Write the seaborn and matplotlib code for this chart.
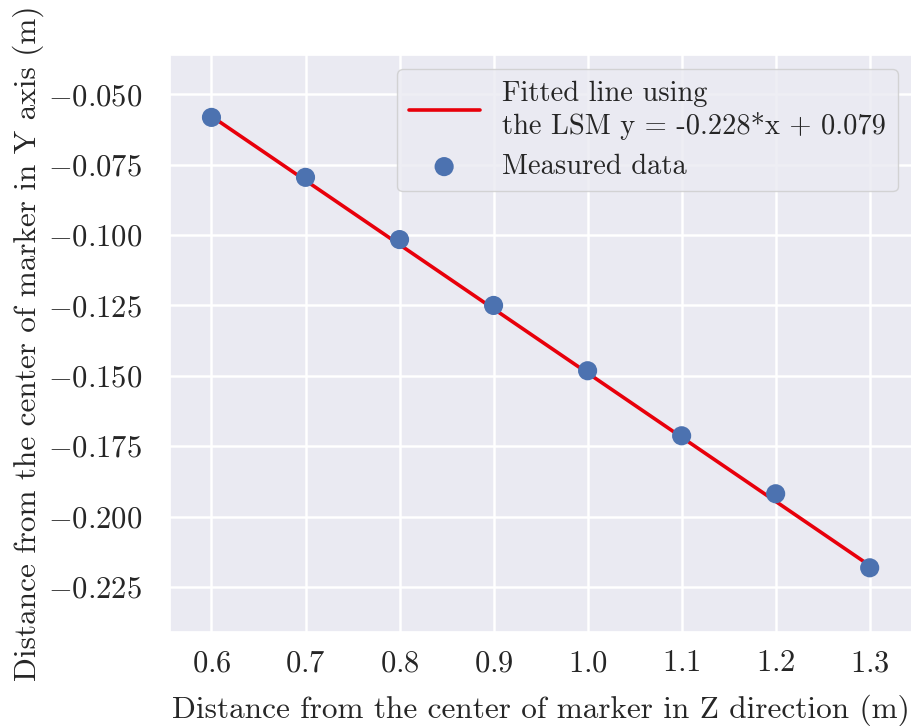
import numpy as np
import pandas as pd
import matplotlib
matplotlib.use("Agg")
import matplotlib.pyplot as plt
import seaborn as sns

sns.set_theme(style="darkgrid", font_scale=1.5)
plt.rcParams['font.family'] = ['cmr10', 'DejaVu Serif']
plt.rcParams['mathtext.fontset'] = 'cm'
plt.rcParams['axes.formatter.use_mathtext'] = True
plt.rcParams['axes.unicode_minus'] = True
plt.rcParams['grid.linewidth'] = 1.8

# measured data
z_dist = [0.6, 0.7, 0.8, 0.9, 1.0, 1.1, 1.2, 1.3]
y_dist = [-0.0582, -0.0795, -0.1016, -0.1250, -0.1482, -0.1713, -0.1919, -0.2182]

# LSM fit coefficients (from legend)
slope = -0.228
intercept = 0.079

df = pd.DataFrame({'z': z_dist, 'y': y_dist})
df['fit'] = slope * df['z'] + intercept

fig = plt.figure(figsize=(9.12, 7.26), dpi=100)
ax = fig.add_axes([0.186, 0.1295, 0.814, 0.7945])

sns.lineplot(x='z', y='fit', data=df, ax=ax, color='#e8000b', linewidth=2.6,
             label='Fitted line using\nthe LSM y = -0.228*x + 0.079')
sns.scatterplot(x='z', y='y', data=df, ax=ax, color='#4c72b0', s=190,
                edgecolor='none', label='Measured data', zorder=3)

ax.set_xlim(0.5555, 1.345)
ax.set_ylim(-0.241, -0.0361)
ax.set_xticks([0.6, 0.7, 0.8, 0.9, 1.0, 1.1, 1.2, 1.3])
ax.set_xlabel("Distance from the center of marker in Z direction (m)", fontsize=22.5, labelpad=12)
ax.set_ylabel("Distance from the center of marker in Y axis (m)", fontsize=22.5, labelpad=3)
ax.tick_params(axis='x', labelsize=22, pad=7)
ax.tick_params(axis='y', labelsize=22, pad=14)
ax.legend(loc='upper right', fontsize=20.5, borderaxespad=0.5, handlelength=2.5)

fig.savefig("out.png", dpi=100)
